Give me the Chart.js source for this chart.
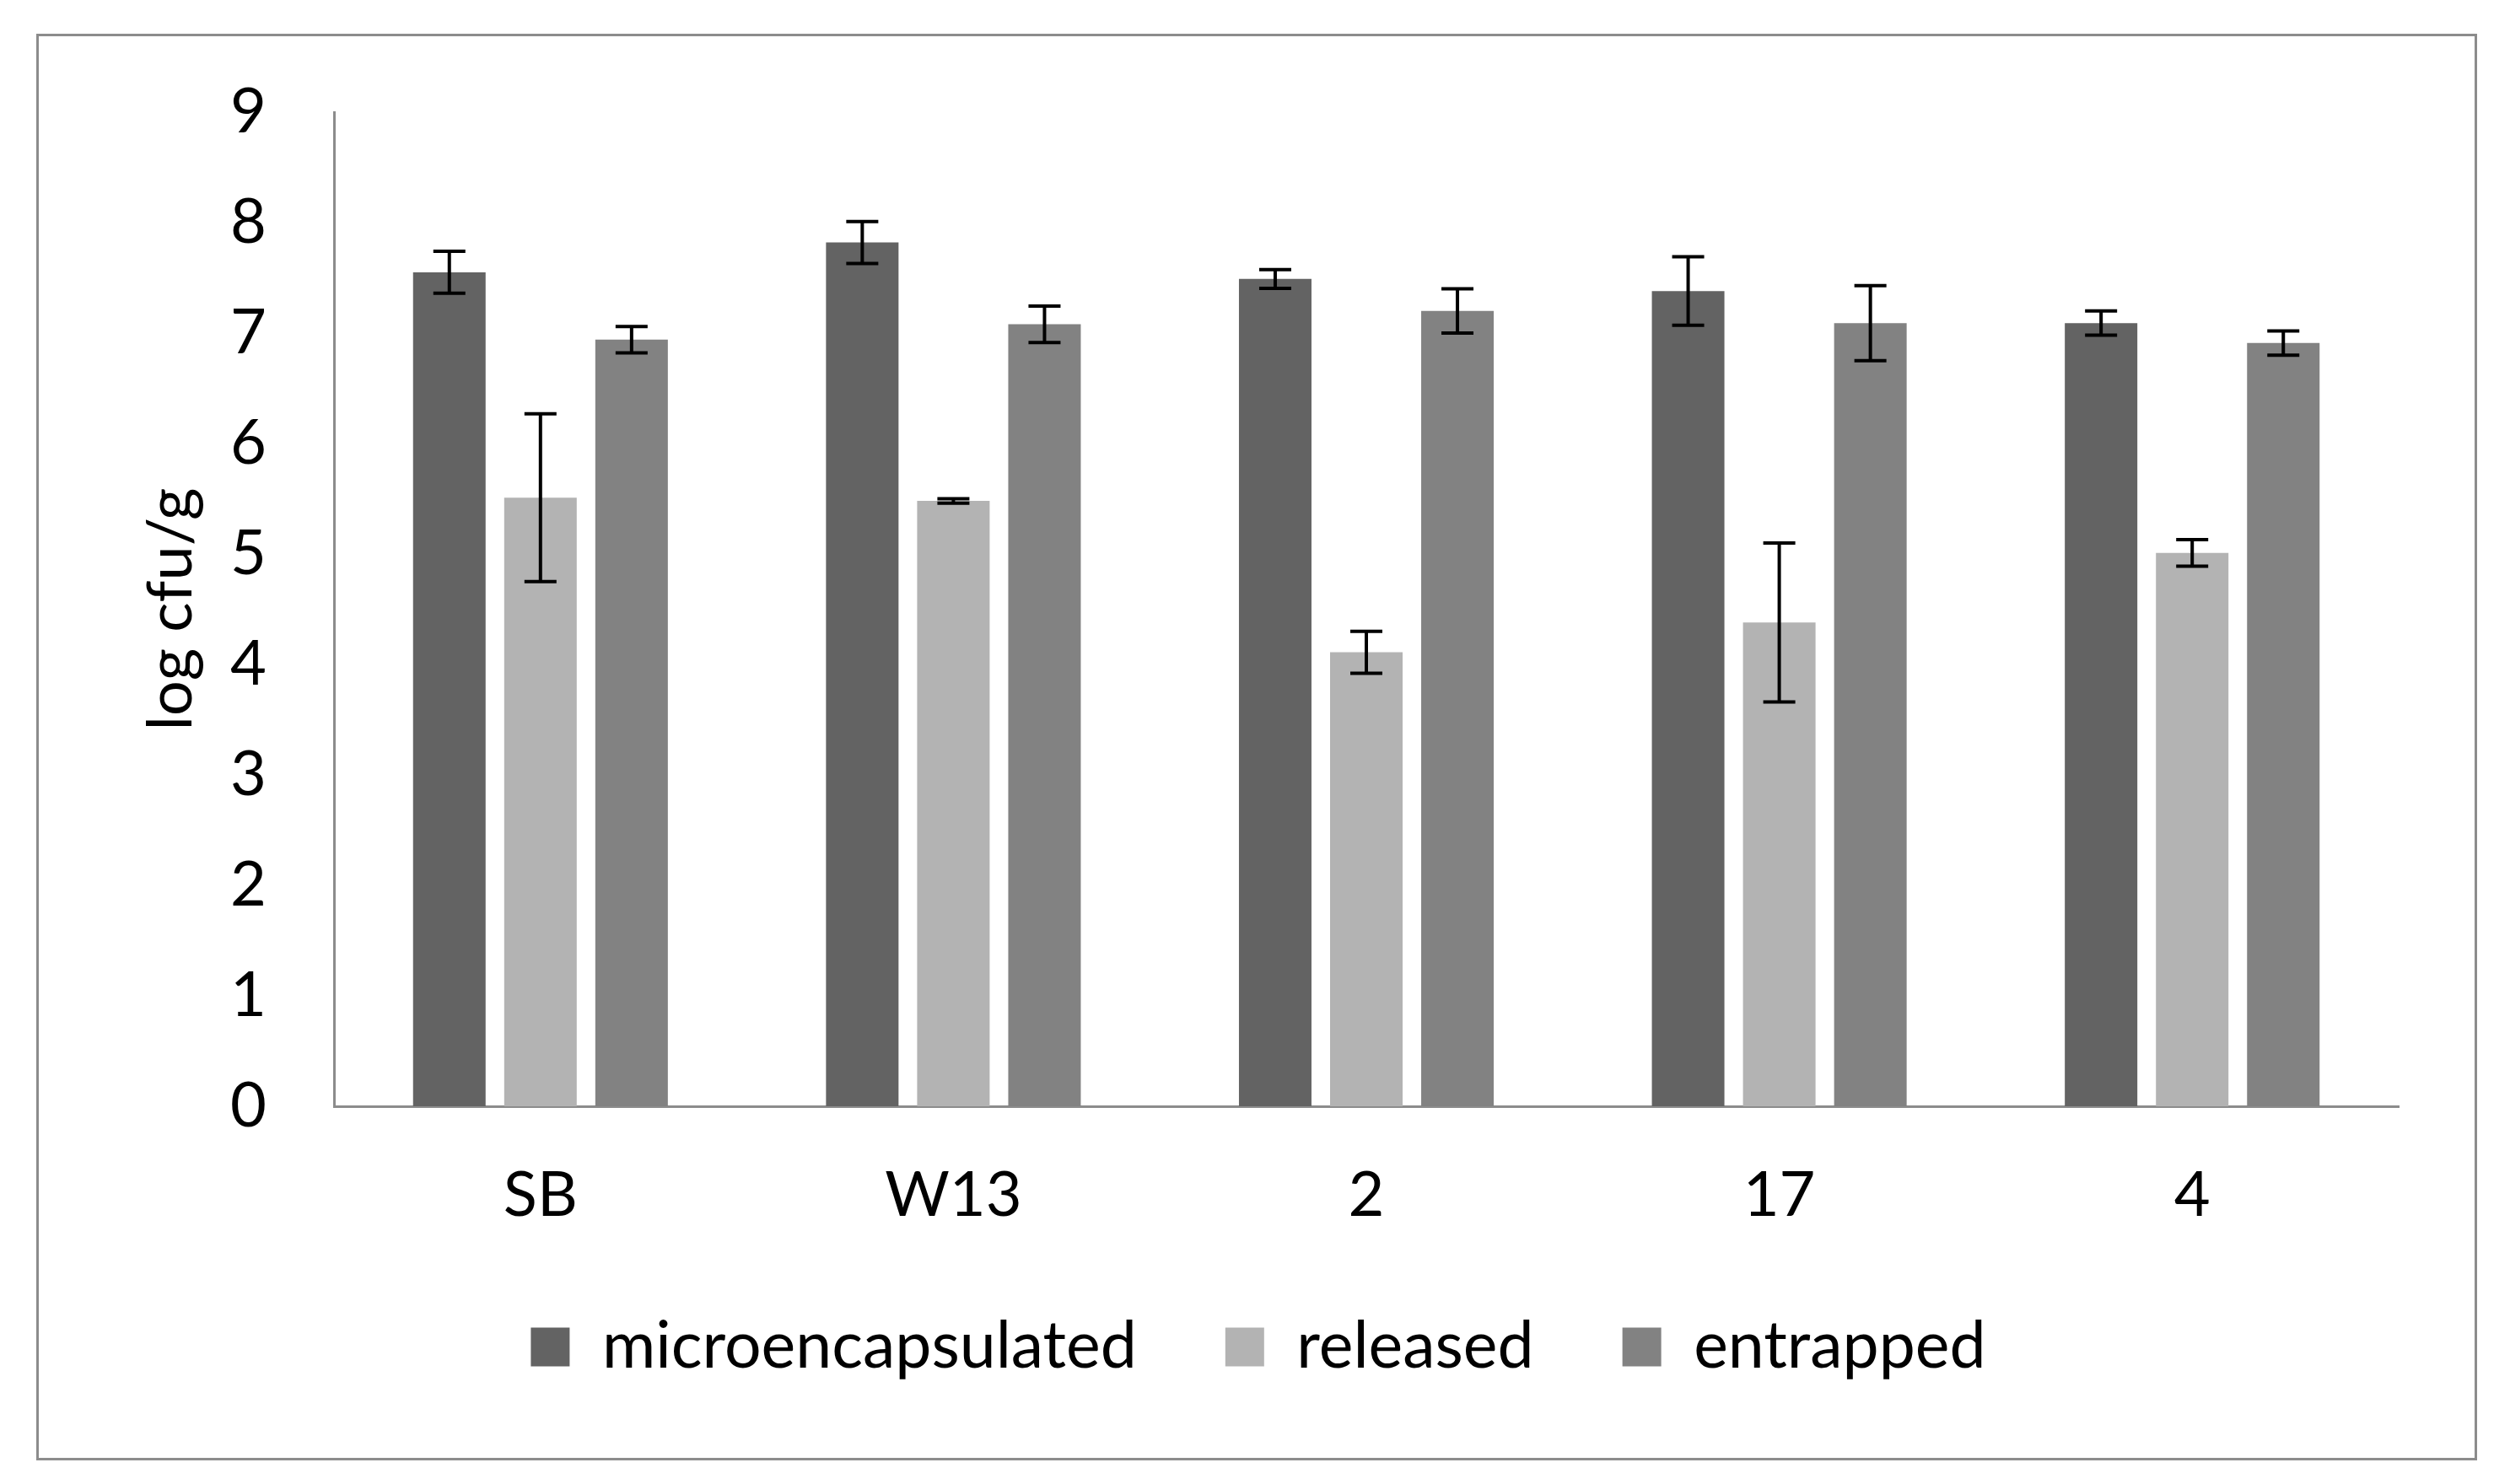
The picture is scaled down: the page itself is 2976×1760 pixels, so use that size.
<!DOCTYPE html>
<html>
<head>
<meta charset="utf-8">
<script src="https://cdn.jsdelivr.net/npm/chart.js@4/dist/chart.umd.min.js"></script>
<style>
  html, body { margin: 0; padding: 0; background: #fff; }
  #wrap { position: relative; width: 2976px; height: 1760px; }
  #frame { position: absolute; left: 43px; top: 40px; width: 2888px; height: 1686px; border: 3px solid #8c8c8c; }
  canvas { position: absolute; left: 0; top: 0; }
</style>
</head>
<body>
<div id="wrap">
  <div id="frame"></div>
  <canvas id="chart" width="2976" height="1760"></canvas>
</div>
<script>
const categories = ['SB', 'W13', '2', '17', '4'];
const microencapsulated = [7.55, 7.82, 7.49, 7.38, 7.09];
const microErr = [0.19, 0.19, 0.085, 0.31, 0.11];
const released = [5.51, 5.48, 4.11, 4.38, 5.01];
const releasedErr = [0.76, 0.02, 0.19, 0.72, 0.12];
const entrapped = [6.94, 7.08, 7.2, 7.09, 6.91];
const entrappedErr = [0.12, 0.165, 0.2, 0.34, 0.11];
const yTicks = [0, 1, 2, 3, 4, 5, 6, 7, 8, 9];

const fontFamily = 'Lato, "Open Sans", sans-serif';
const axisGray = '#8c8c8c';

const errorBars = {
    id: 'errorBars',
    afterDatasetsDraw(chart) {
        const ctx = chart.ctx;
        const yScale = chart.scales.y;
        ctx.save();
        ctx.strokeStyle = '#000';
        ctx.lineWidth = 4;
        chart.data.datasets.forEach((ds, di) => {
            const meta = chart.getDatasetMeta(di);
            meta.data.forEach((bar, i) => {
                const v = ds.data[i];
                const e = ds.errors[i];
                const yTop = yScale.getPixelForValue(v + e);
                const yBot = yScale.getPixelForValue(v - e);
                const half = 19;
                ctx.beginPath();
                ctx.moveTo(bar.x, yTop);
                ctx.lineTo(bar.x, yBot);
                ctx.moveTo(bar.x - half, yTop);
                ctx.lineTo(bar.x + half, yTop);
                ctx.moveTo(bar.x - half, yBot);
                ctx.lineTo(bar.x + half, yBot);
                ctx.stroke();
            });
        });
        ctx.restore();
    }
};

// nudge the legend row to the right, it sits under the middle of the page not the plot
const legendShift = {
    id: 'legendShift',
    afterLayout(chart) {
        chart.legend.left += 70;
        chart.legend.right += 70;
    }
};

const ctx = document.getElementById('chart').getContext('2d');
new Chart(ctx, {
    type: 'bar',
    data: {
        labels: categories,
        datasets: [
            { label: 'microencapsulated', data: microencapsulated, errors: microErr, backgroundColor: '#636363' },
            { label: 'released', data: released, errors: releasedErr, backgroundColor: '#b3b3b3' },
            { label: 'entrapped', data: entrapped, errors: entrappedErr, backgroundColor: '#828282' }
        ]
    },
    options: {
        responsive: false,
        devicePixelRatio: 1,
        animation: false,
        categoryPercentage: 0.662,
        barPercentage: 0.796,
        layout: { padding: { left: 0, right: 132, top: 133, bottom: 114 } },
        plugins: {
            legend: {
                position: 'bottom',
                labels: {
                    boxWidth: 46,
                    boxHeight: 46,
                    padding: 105,
                    color: '#000',
                    font: { family: fontFamily, size: 77 }
                }
            },
            tooltip: { enabled: false }
        },
        scales: {
            x: {
                grid: { display: false, drawTicks: false },
                border: { display: true, color: axisGray, width: 3 },
                ticks: { color: '#000', padding: 62, font: { family: fontFamily, size: 74 } },
                afterFit: function(scale) { scale.height = 142; }
            },
            y: {
                min: 0,
                max: 9,
                afterBuildTicks: function(scale) {
                    scale.ticks = yTicks.map(v => ({ value: v }));
                },
                grid: { display: false, drawTicks: false },
                border: { display: true, color: axisGray, width: 3 },
                ticks: { color: '#000', padding: 80, font: { family: fontFamily, size: 74 } },
                title: {
                    display: true,
                    text: 'log cfu/g',
                    color: '#000',
                    padding: { top: 159, bottom: 0 },
                    font: { family: fontFamily, size: 74 }
                },
                afterFit: function(scale) { scale.width = 396; }
            }
        }
    },
    plugins: [errorBars, legendShift]
});
</script>
</body>
</html>
